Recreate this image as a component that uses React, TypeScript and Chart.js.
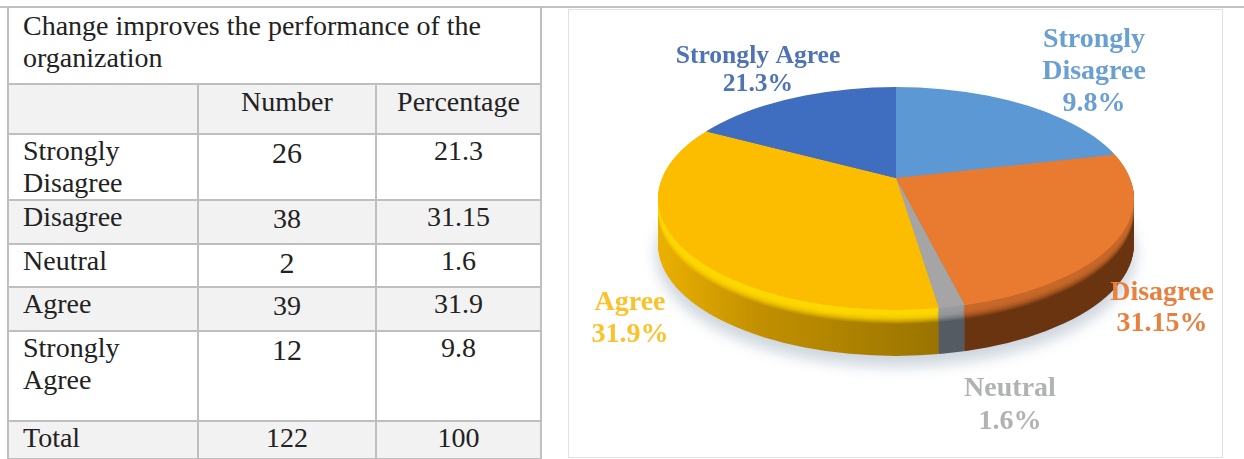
import React, { useEffect, useRef } from "react";
import { Chart, registerables } from "chart.js";

Chart.register(...registerables);

// ---- table content ----
const tableTitle = ["Change improves the performance of the", "organization"];
const tableHeaders = ["", "Number", "Percentage"];
const rowNames = [["Strongly", "Disagree"], ["Disagree"], ["Neutral"], ["Agree"], ["Strongly", "Agree"], ["Total"]];
const rowNumbers = ["26", "38", "2", "39", "12", "122"];
const rowPercentages = ["21.3", "31.15", "1.6", "31.9", "9.8", "100"];

// ---- pie content: slice sizes as they are seen in the picture ----
const sliceNames = ["Strongly Disagree", "Disagree", "Neutral", "Agree", "Strongly Agree"];
const sliceShares = [22.2, 22.8, 1.9, 34.3, 18.8];
const sliceLabels = ["9.8%", "31.15%", "1.6%", "31.9%", "21.3%"];
const sliceColors = ["#5b98d4", "#e97b30", "#a5a5a5", "#fcbc00", "#3f6dbf"];
const labelColors = ["#6a9fd2", "#e8803f", "#b0b2b4", "#fcc22c", "#4f73b4"];

// ---- drawing geometry, page coordinates ----
const rowHeights = [77, 50, 66, 44, 43, 44, 90, 38];
const colWidths = [190, 178, 165];
const frame = { left: 568, top: 9, width: 655, height: 449 };
const apex = { x: 896, y: 178 };
const face = { x: 896, y: 198.5, rx: 238, ry: 111.5 };
const rimDepth = 46;
const bevelDepth = 14;
const tilt = 0.6;
const reach = 300;
const labelLines: string[][] = [
  ["Strongly", "Disagree"],
  ["Disagree"],
  ["Neutral"],
  ["Agree"],
  ["Strongly Agree"],
];
const labelAnchors = [
  { x: 1094, y: 40, step: 32, size: 28 },
  { x: 1162, y: 293, step: 31, size: 28 },
  { x: 1010, y: 389, step: 33, size: 28 },
  { x: 630, y: 303, step: 32, size: 28 },
  { x: 758, y: 56, step: 28, size: 25.6 },
];
const rimStops: [number, string][][] = [
  [[0, "#3d6f9e"], [1, "#3d6f9e"]],
  [[0, "#6a3410"], [1, "#6a3410"]],
  [[0, "#555b62"], [1, "#555b62"]],
  [[0, "#eab000"], [0.35, "#c29000"], [1, "#9a7400"]],
  [[0, "#2d4f8c"], [1, "#2d4f8c"]],
];
const bevelColors = ["#5b98d4", "#c8692a", "#9a9c9e", "#ffd800", "#3f6dbf"];

const serif = '"Liberation Serif", "Times New Roman", serif';

const pie3d = {
  id: "pie3d",
  beforeDatasetsDraw(chart: any) {
    const ctx: CanvasRenderingContext2D = chart.ctx;
    const meta = chart.getDatasetMeta(0);
    const arcs = meta.data;
    const cx = arcs[0].x;
    const cy = arcs[0].y;
    const R = arcs[0].outerRadius;
    const sx = reach / R;
    const sy = (reach * tilt) / R;
    const ax = apex.x - frame.left;
    const ay = apex.y - frame.top;
    const fx = face.x - frame.left;
    const fy = face.y - frame.top;

    const layer = (offset: number, colorOf: (i: number) => any) => {
      ctx.save();
      ctx.beginPath();
      ctx.ellipse(fx, fy + offset, face.rx, face.ry, 0, 0, Math.PI * 2);
      ctx.clip();
      ctx.translate(ax, ay + offset);
      ctx.scale(sx, sy);
      ctx.translate(-cx, -cy);
      arcs.forEach((arc: any, i: number) => {
        const saved = arc.options;
        arc.options = { ...saved, backgroundColor: colorOf(i), borderWidth: 0, borderColor: "transparent" };
        arc.draw(ctx);
        arc.options = saved;
      });
      ctx.restore();
    };

    // soft shadow under the disc
    ctx.save();
    ctx.filter = "blur(7px)";
    ctx.fillStyle = "rgba(165,180,195,0.55)";
    ctx.beginPath();
    ctx.ellipse(fx, fy + rimDepth + 9, face.rx + 2, face.ry + 2, 0, 0, Math.PI * 2);
    ctx.fill();
    ctx.restore();

    // gradient coordinates live in the arc's own space
    const arcX = (pageX: number) => cx + (pageX - apex.x) / sx;
    const rimFill = rimStops.map((stops) => {
      const g = ctx.createLinearGradient(arcX(660), 0, arcX(940), 0);
      stops.forEach(([p, c]) => g.addColorStop(p, c));
      return g;
    });

    for (let o = rimDepth; o > 0; o--) layer(o, (i) => rimFill[i]);
    for (let o = bevelDepth; o > 0; o--) {
      const alpha = 0.55 * (1 - (o - 1) / bevelDepth) + 0.1;
      ctx.save();
      ctx.globalAlpha = alpha;
      layer(o, (i) => bevelColors[i]);
      ctx.restore();
    }
    layer(0, (i) => sliceColors[i]);
    return false;
  },
  afterDraw(chart: any) {
    const ctx: CanvasRenderingContext2D = chart.ctx;
    ctx.save();
    ctx.textAlign = "center";
    ctx.textBaseline = "middle";
    labelAnchors.forEach((a, i) => {
      ctx.font = `bold ${a.size}px ${serif}`;
      ctx.fillStyle = labelColors[i];
      const lines = [...labelLines[i], sliceLabels[i]];
      lines.forEach((t, k) => ctx.fillText(t, a.x - frame.left, a.y - frame.top + k * a.step));
    });
    ctx.restore();
  },
};

const cell = (shaded: boolean, center: boolean, size = 28): React.CSSProperties => ({
  border: "2px solid #bfbfbf",
  background: shaded ? "#f2f2f2" : "#fff",
  padding: center ? "0" : "0 0 0 14px",
  textAlign: center ? "center" : "left",
  verticalAlign: "top",
  fontFamily: serif,
  fontSize: size,
  lineHeight: "32px",
  color: "#222",
  boxSizing: "border-box",
  whiteSpace: "nowrap",
  overflow: "hidden",
});

export default function App() {
  const ref = useRef<HTMLCanvasElement>(null);
  useEffect(() => {
    const chart = new Chart(ref.current!, {
      type: "pie",
      data: {
        labels: sliceNames,
        datasets: [{ data: sliceShares, backgroundColor: sliceColors, borderWidth: 0 }],
      },
      options: {
        responsive: false,
        animation: false,
        layout: { padding: 0 },
        plugins: { legend: { display: false }, tooltip: { enabled: false } },
      },
      plugins: [pie3d],
    } as any);
    return () => chart.destroy();
  }, []);

  return (
    <div style={{ position: "absolute", left: 0, top: 0, width: 1244, height: 459, overflow: "hidden", background: "#fff", filter: "blur(0.45px)" }}>
      <div style={{ position: "absolute", left: 0, top: 6, width: 1244, height: 2, background: "#c2c2c2" }} />
      <table style={{ position: "absolute", left: 7, top: 6, borderCollapse: "collapse", tableLayout: "fixed", width: colWidths[0] + colWidths[1] + colWidths[2] }}>
        <colgroup>
          {colWidths.map((w, i) => <col key={i} style={{ width: w }} />)}
        </colgroup>
        <tbody>
          <tr style={{ height: rowHeights[0] }}>
            <td colSpan={3} style={{ ...cell(false, false), paddingTop: 2 }}>
              {tableTitle.map((t, i) => <div key={i}>{t}</div>)}
            </td>
          </tr>
          <tr style={{ height: rowHeights[1] }}>
            {tableHeaders.map((h, i) => <td key={i} style={{ ...cell(true, i > 0), paddingTop: 1 }}>{h}</td>)}
          </tr>
          {rowNames.map((name, r) => {
            const big = r === 0 || r === 2 || r === 4;
            return (
              <tr key={r} style={{ height: rowHeights[r + 2] }}>
                <td style={cell(r % 2 === 1, false)}>{name.map((n, i) => <div key={i}>{n}</div>)}</td>
                <td style={{ ...cell(r % 2 === 1, true, big ? 30 : 28), paddingTop: r === 5 ? 0 : 2 }}>{rowNumbers[r]}</td>
                <td style={cell(r % 2 === 1, true)}>{rowPercentages[r]}</td>
              </tr>
            );
          })}
        </tbody>
      </table>
      <div style={{ position: "absolute", left: frame.left, top: frame.top, width: frame.width, height: frame.height, boxSizing: "border-box", border: "1px solid #dfe2e6" }} />
      <canvas
        ref={ref}
        width={frame.width}
        height={frame.height}
        style={{ position: "absolute", left: frame.left, top: frame.top, width: frame.width, height: frame.height }}
      />
    </div>
  );
}
